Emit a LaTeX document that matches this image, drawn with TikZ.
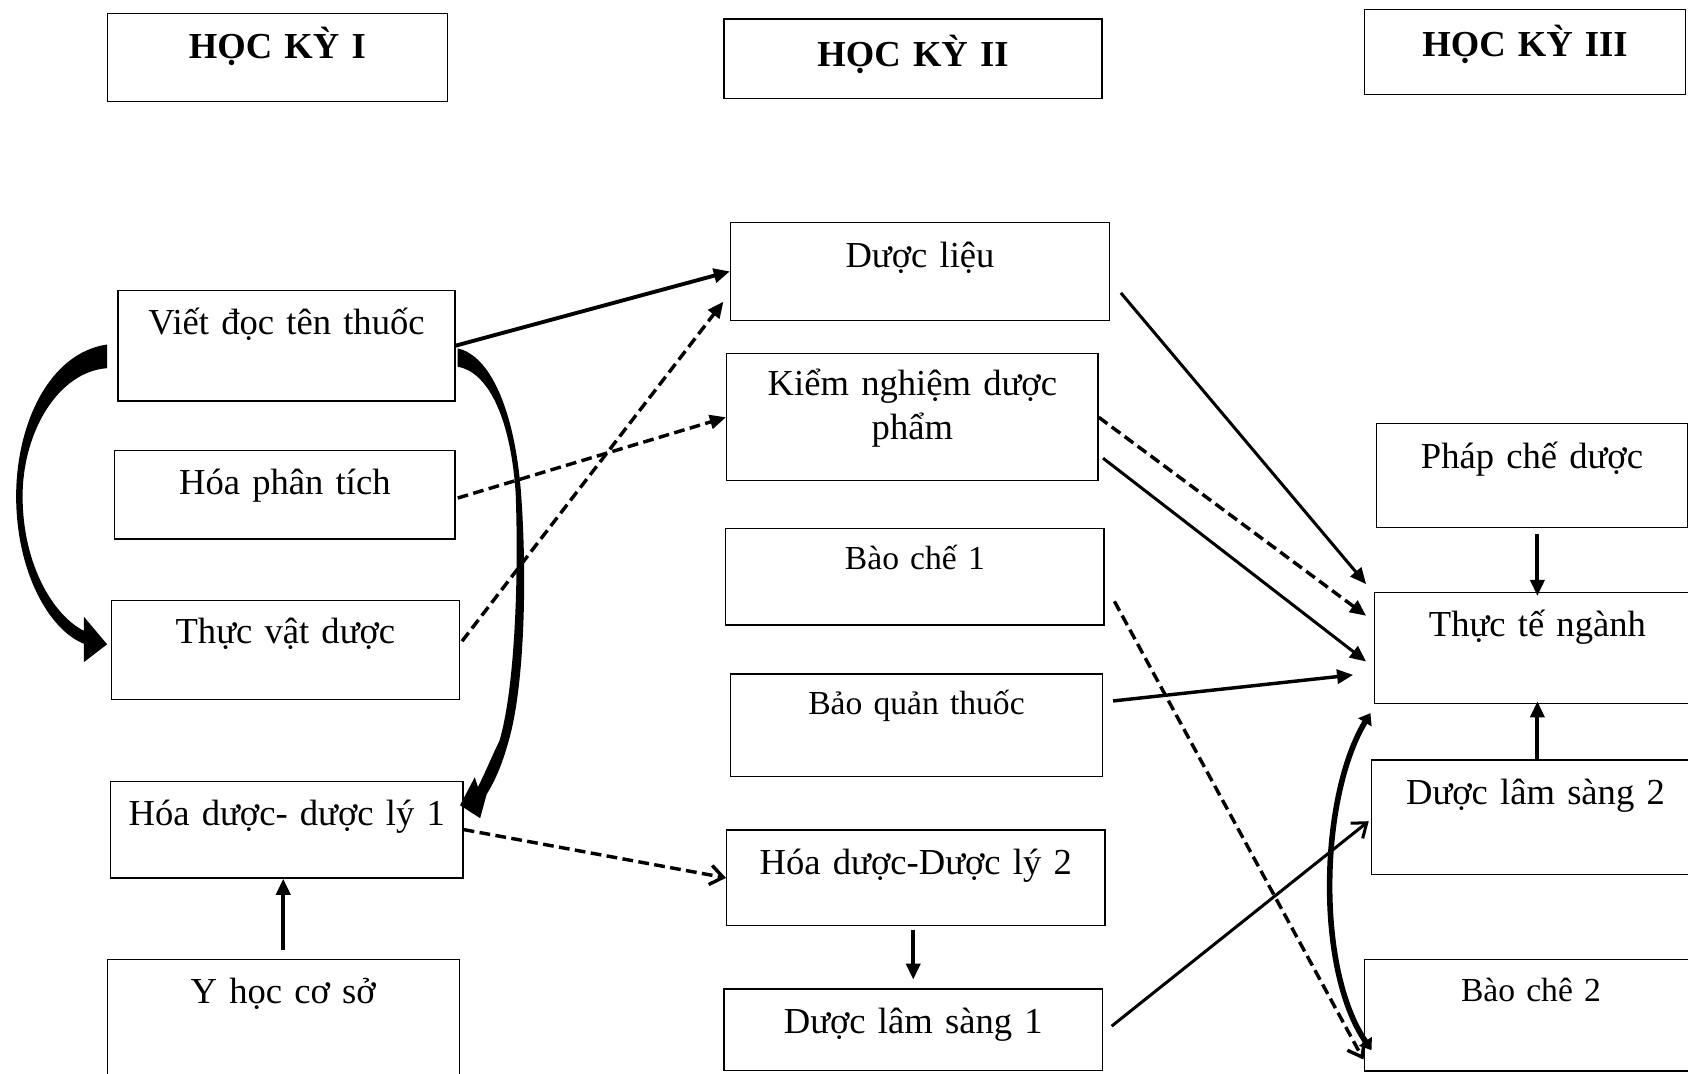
\documentclass[tikz,border=0pt]{standalone}
\usepackage{fontspec}
\setmainfont{Liberation Serif}
\usetikzlibrary{arrows.meta}
\newcommand{\txtfont}{\fontsize{17}{20.4}\selectfont}
\newcommand{\smfont}{\fontsize{15.6}{18.7}\selectfont}
\newcommand{\hdfont}{\fontsize{17}{20.4}\selectfont\bfseries}
\begin{document}
\begin{tikzpicture}[x=0.5pt,y=-0.5pt]
\tikzset{box/.style n args={3}{draw, line width=0.6pt, inner sep=0pt, align=center,
            anchor=north west, text width=#1, text height=#2, text depth=#3, font=\txtfont},
         ln/.style={line width=1.6pt},
         dsh/.style={dash pattern=on 5pt off 2.5pt},
         filltip/.style={-{Triangle[length=7.5pt,width=6.5pt]}},
         opentip/.style={-{Straight Barb[length=6pt,width=9pt]}}}
\useasboundingbox (0,0) rectangle (1568,997);
\node[box={158pt}{21pt}{20pt}, font=\hdfont] (hk1) at (99,12) {HỌC KỲ I};
\node[box={175.5pt}{22pt}{15pt}, font=\hdfont] (hk2) at (672,17) {HỌC KỲ II};
\node[box={149pt}{22pt}{17.5pt}, font=\hdfont] (hk3) at (1267,8) {HỌC KỲ III};
\node[box={156.5pt}{20.5pt}{31pt}] (viet) at (109,269) {Viết đọc tên thuốc};
\node[box={158pt}{20.5pt}{20.5pt}] (hpt) at (106,418) {Hóa phân tích};
\node[box={161.5pt}{20pt}{26pt}] (tvd) at (103,557) {Thực vật dược};
\node[box={163.75pt}{20.75pt}{24.25pt}] (hdl1) at (102,725) {Hóa dược- dược lý 1};
\node[box={163.5pt}{20.5pt}{39pt}] (yhcs) at (99,891) {Y học cơ sở};
\node[box={176pt}{21pt}{24.5pt}] (dl) at (678,206) {Dược liệu};
\node[box={172.5pt}{19.5pt}{39.5pt}] (kn) at (674.4,328) {Kiểm nghiệm dược\\phẩm};
\node[box={175.75pt}{19.3pt}{25.7pt}, font=\smfont] (bc1) at (673.5,490) {Bào chế 1};
\node[box={172.7pt}{18.9pt}{28.85pt}, font=\smfont] (bq) at (678,625.5) {Bảo quản thuốc};
\node[box={175.7pt}{20.45pt}{24pt}] (hdl2) at (674.4,770.4) {Hóa dược-Dược lý 2};
\node[box={175.7pt}{20.5pt}{17.5pt}] (dls1) at (672,918) {Dược lâm sàng 1};
\node[box={144.5pt}{20.7pt}{27.6pt}] (pcd) at (1278,393) {Pháp chế dược};
\node[box={151.5pt}{20.35pt}{31.45pt}] (tt) at (1276,549.6) {Thực tế ngành};
\node[box={152.3pt}{20.5pt}{32.7pt}] (dls2) at (1273.4,705.4) {Dược lâm sàng 2};
\node[box={154.5pt}{19.45pt}{32.35pt}, font=\smfont] (bc2) at (1267,890.7) {Bào chê 2};
\fill (99.5,320) .. controls (45,328) and (15,395) .. (15,461)
    .. controls (15,530) and (45,585) .. (78,598) -- (78,615) -- (99.5,598.5) -- (78,573)
    -- (78,586) .. controls (50,572) and (21,525) .. (21,461)
    .. controls (21,400) and (55,345) .. (99.5,342) -- cycle;
\fill (425,323.6) .. controls (455,330) and (478,380) .. (484,458)
    .. controls (490,540) and (487,640) .. (472,690) .. controls (465,715) and (458,728) .. (452,738)
    -- (446,760) -- (427.3,748) -- (441,722) -- (444,731)
    .. controls (452,715) and (458,700) .. (464,688) .. controls (478,640) and (482,540) .. (479,458)
    .. controls (474,385) and (452,345) .. (425,340.6) -- cycle;
\draw[line width=1.8pt, filltip] (viet.east) -- (dl.west);
\draw[ln, dsh, filltip] ([shift={(2,-8)}]tvd.east) -- ([shift={(-6,-18)}]dl.south west);
\draw[ln, dsh, filltip] ([shift={(2,3)}]hpt.east) -- (kn.west);
\draw[ln, dsh, opentip] (hdl1.east) -- (hdl2.west);
\draw[line width=1.8pt, filltip, shorten <=4.25pt] (yhcs.north) -- (yhcs.north |- hdl1.south);
\draw[line width=1.8pt, filltip, shorten <=1.5pt, shorten >=4pt] (hdl2.south -| dls1.north) -- (dls1.north);
\draw[line width=1.4pt, filltip] ([shift={(10,20)}]dl.east) -- ([shift={(-7,-7)}]tt.north west);
\draw[ln, dsh, filltip] (kn.east) -- ([shift={(-7,22.4)}]tt.north west);
\draw[line width=1.4pt, filltip] ([shift={(4,-21.6)}]kn.south east) -- ([shift={(-7,12.5)}]tt.west);
\draw[ln, filltip] ([shift={(9.4,-22.75)}]bq.east) -- ([shift={(-19,-27.5)}]tt.south west);
\draw[ln, dsh, opentip] ([shift={(9,-22.6)}]bc1.south east) -- ([shift={(-0.5,-11.3)}]bc2.south west);
\draw[line width=1.4pt, opentip] ([shift={(8,-3.4)}]dls1.east) -- ([shift={(-2,3.6)}]dls2.west);
\draw[line width=1.8pt, filltip, shorten <=2.7pt, shorten >=-2pt] (pcd.south -| tt.north) -- (tt.north);
\draw[line width=1.8pt, filltip, shorten >=-1.5pt] (dls2.north -| tt.south) -- (tt.south);
\draw[line width=2.6pt, {Triangle[length=5pt,width=7pt]}-{Triangle[length=5pt,width=7pt]}]
    ([shift={(-3,8)}]tt.south west) .. controls (1226,740) and (1222,900) .. ([shift={(7,-20)}]bc2.south west);
\end{tikzpicture}
\end{document}
